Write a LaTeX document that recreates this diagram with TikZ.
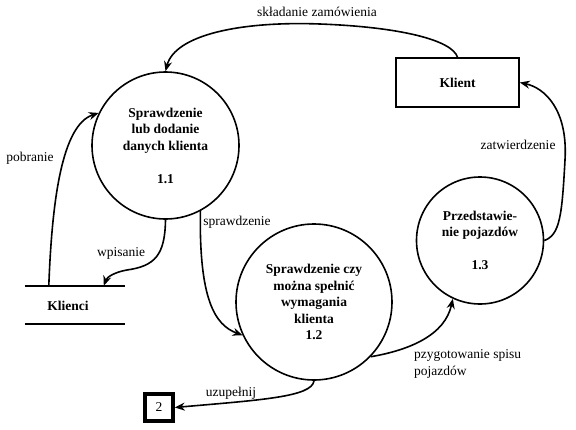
\documentclass[tikz,border=0pt]{standalone}
\usepackage{fontspec}
\setmainfont{Liberation Serif}
\usetikzlibrary{arrows.meta}
\begin{document}
\begin{tikzpicture}[x=1pt,y=-1pt,
  proc/.style={circle,draw,line width=1.6pt,inner sep=0pt,align=center,font=\bfseries\fontsize{13.5}{16.5}\selectfont},
  ext/.style={draw,line width=1.6pt,minimum width=123pt,minimum height=49pt,inner sep=0pt,font=\bfseries\fontsize{13.5}{16.5}\selectfont},
  flow/.style={line width=1.6pt,-{Stealth[length=10pt,width=8pt]}},
  lbl/.style={font=\fontsize{13.5}{16.5}\selectfont,inner sep=0pt}]
\useasboundingbox (0,0) rectangle (576,429);
% processes
\node[proc,minimum size=147pt] (c11) at (165.5,145.5) {Sprawdzenie\\lub dodanie\\danych klienta\\[16.5pt]1.1};
\node[proc,minimum size=156pt] (c12) at (314,302) {Sprawdzenie czy\\można spełnić\\wymagania\\klienta\\1.2};
\node[proc,minimum size=127pt] (c13) at (480,240.5) {Przedstawie-\\nie pojazdów\\[16.5pt]1.3};
% external entity
\node[ext] (kl) at (457.5,82.5) {Klient};
% data store
\node[minimum width=100pt,minimum height=38pt,inner sep=0pt] (kc) at (75,305) {};
\draw[line width=1.6pt] (kc.north west) -- (kc.north east) (kc.south west) -- (kc.south east);
\node[font=\bfseries\fontsize{13.5}{16.5}\selectfont,inner sep=0pt] (kct) at (68,306) {Klienci};
% connector box
\node[draw,line width=3.5pt,minimum width=28pt,minimum height=27pt,inner sep=0pt,font=\fontsize{13.5}{16.5}\selectfont] (b2) at (159,407.5) {2};
% helper coordinates
\coordinate (pobS) at ([xshift=24pt]kc.north west);
\coordinate (wpiE) at ([xshift=79pt]kc.north west);
% flows
\draw[flow] (kl.north) .. controls (452,40) and (400,27) .. (320,24)
  .. controls (240,21) and (175,35) .. (c11.north);
\draw[flow] (c13.east) .. controls (560,235) and (562,215) .. (565,160)
  .. controls (568,110) and (545,88) .. (kl.east);
\draw[flow] (pobS) .. controls (52,200) and (62,125) .. (c11.154);
\draw[flow] (c11.south) .. controls (165,255) and (155,266) .. (127,270)
  .. controls (115,272) and (107,277) .. (wpiE);
\draw[flow] (c11.-62) .. controls (199,300) and (215,325) .. (c12.205);
\draw[flow] (c12.-44) .. controls (410,350) and (445,335) .. (c13.-115);
\draw[flow] (c12.south) .. controls (312,397) and (260,400) .. (b2.east);
% labels
\node[lbl] (l1) at (317,12) {składanie zamówienia};
\node[lbl] (l2) at (518,145) {zatwierdzenie};
\node[lbl] (l3) at (30,158) {pobranie};
\node[lbl] (l4) at (121,253) {wpisanie};
\node[lbl] (l5) at (237,222) {sprawdzenie};
\node[lbl,align=left,anchor=west] (l6) at (414,364) {pzygotowanie spisu\\pojazdów};
\node[lbl] (l7) at (231,393) {uzupełnij};
\end{tikzpicture}
\end{document}
